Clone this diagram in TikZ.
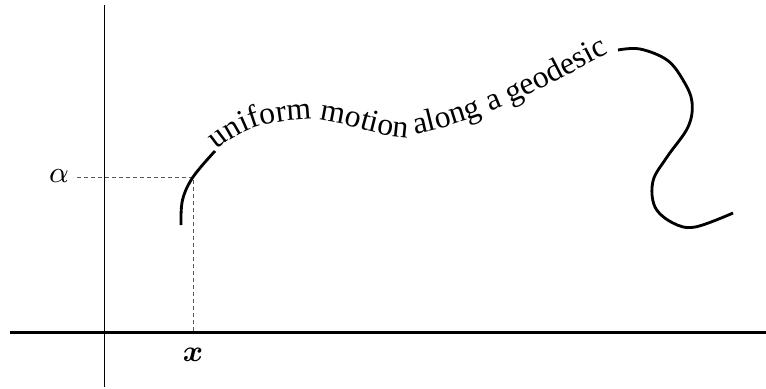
\documentclass[tikz,border=0pt]{standalone}
\usepackage{amsmath}
\usepackage{fontspec}
\setmainfont{Liberation Serif}
\usetikzlibrary{decorations.text}
\tikzset{
  axisthick/.style={line width=0.9pt},
  axisthin/.style={line width=0.4pt},
  guide/.style={line width=0.3pt, draw=black!65, dash pattern=on 1.2pt off 0.9pt},
  trajectory/.style={line width=0.85pt, line cap=butt},
  lbl/.style={inner sep=0pt, font=\fontsize{9}{11}\selectfont}
}
\begin{document}
\begin{tikzpicture}[x=0.3pt, y=-0.3pt]
\useasboundingbox (0,0) rectangle (766,388);
% axes
\coordinate (hl) at (10,332);
\coordinate (hr) at (766,332);
\coordinate (vt) at (104.5,5);
\coordinate (vb) at (104.5,387);
\draw[axisthick] (hl) -- (hr);
\draw[axisthin] (vt) -- (vb);
% dashed guides
\coordinate (P) at (193,177);
\coordinate (Pa) at (77,177);
\coordinate (Px) at (193,332);
\draw[guide] (Pa) -- (P) -- (Px);
\node[lbl] (labA) at (59,176) {$\alpha$};
\node[lbl] (labX) at (193,355) {$\boldsymbol{x}$};
% trajectory
\coordinate (t0) at (217,150);
\coordinate (t1) at (310,119);
\coordinate (t2) at (400,137);
\coordinate (t3) at (614,51);
\draw[trajectory] plot[smooth, tension=0.6] coordinates {(181,225) (182.5,200) (193,177) (215,151)};
\path[decorate, decoration={text along path, text align=left,
  text={|\fontsize{9.5}{11}\selectfont|uniform motion along a geodesic}}]
  (t0) to[out=40, in=183] (t1) to[out=-3, in=174] (t2) to[out=10, in=207] (t3);
\draw[trajectory] plot[smooth, tension=0.6] coordinates {(618,50) (640,49) (667,60) (683,80) (692,102) (688,127) (667,157) (653,181) (655,207) (673,223) (695,227) (733,213)};
\end{tikzpicture}
\end{document}
